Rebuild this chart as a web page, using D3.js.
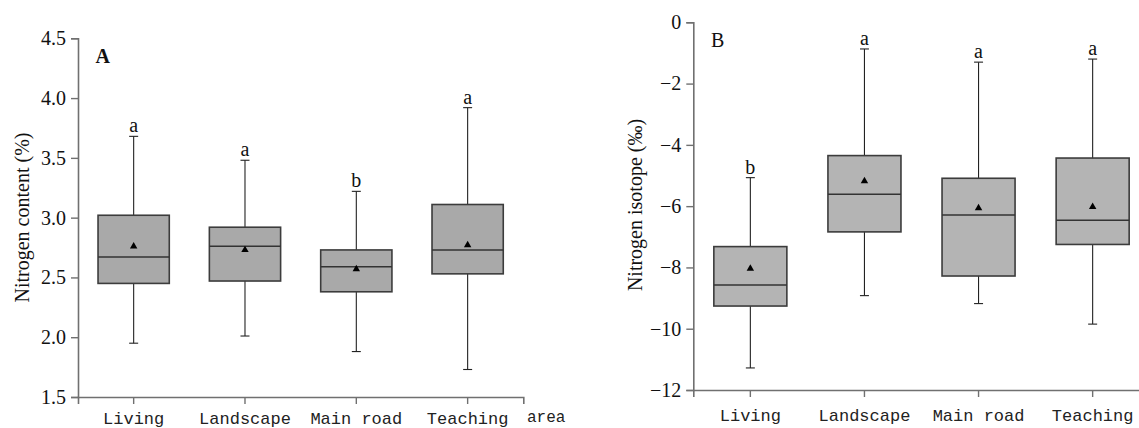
<!DOCTYPE html>
<html>
<head>
<meta charset="utf-8">
<script src="https://cdn.jsdelivr.net/npm/d3@7"></script>
<style>
  body { margin: 0; background: #fff; }
  svg { display: block; }
</style>
</head>
<body>
<div id="chart"></div>
<script>
// categories
const categories = ["Living", "Landscape", "Main road", "Teaching"];

// panel A - nitrogen content (%)
const nMin    = [1.95, 2.01, 1.88, 1.73];
const nQ1     = [2.45, 2.47, 2.38, 2.53];
const nMedian = [2.67, 2.76, 2.59, 2.73];
const nQ3     = [3.02, 2.92, 2.73, 3.11];
const nMax    = [3.68, 3.48, 3.22, 3.92];
const nMean   = [2.76, 2.73, 2.57, 2.77];
const nLetters = ["a", "a", "b", "a"];
const nTicks  = [1.5, 2.0, 2.5, 3.0, 3.5, 4.0, 4.5];

// panel B - nitrogen isotope (‰)
const iMin    = [-11.28, -8.92, -9.18, -9.85];
const iQ1     = [-9.26, -6.84, -8.28, -7.25];
const iMedian = [-8.57, -5.61, -6.29, -6.46];
const iQ3     = [-7.32, -4.35, -5.09, -4.43];
const iMax    = [-5.07, -0.87, -1.30, -1.20];
const iMean   = [-8.04, -5.18, -6.06, -6.02];
const iLetters = ["b", "a", "a", "a"];
const iTicks  = [-12, -10, -8, -6, -4, -2, 0];

const width = 1139, height = 428;
const serif = "'Liberation Serif', 'Times New Roman', serif";
const mono = "'Liberation Mono', monospace";

const svg = d3.select("#chart").append("svg")
    .attr("width", width)
    .attr("height", height);

function drawPanel(opt) {
    const rows = categories.map((c, i) => ({
        cat: c, min: opt.min[i], q1: opt.q1[i], med: opt.median[i],
        q3: opt.q3[i], max: opt.max[i], mean: opt.mean[i], letter: opt.letters[i]
    }));

    const x = d3.scaleBand().domain(categories).range(opt.xRange);
    const y = d3.scaleLinear().domain(opt.yDomain).range(opt.yRange);
    const boxW = x.step() * 0.64;
    const cx = d => x(d.cat) + x.bandwidth() / 2;

    const g = svg.append("g");

    // axes
    const yAxis = g.append("g")
        .attr("transform", `translate(${opt.xRange[0]},0)`)
        .call(d3.axisLeft(y).tickValues(opt.ticks).tickFormat(opt.fmt)
            .tickSizeOuter(0).tickSize(7).tickPadding(5));
    const xAxis = g.append("g")
        .attr("transform", `translate(0,${opt.yRange[0]})`)
        .call(d3.axisBottom(x).tickSizeOuter(0).tickSize(7).tickPadding(opt.xPad));

    [yAxis, xAxis].forEach(a => {
        a.select(".domain").attr("stroke", "#707070").attr("stroke-width", 1.6);
        a.selectAll(".tick line").attr("stroke", "#707070").attr("stroke-width", 1.4);
    });
    yAxis.selectAll(".tick text")
        .attr("fill", "#111")
        .style("font-family", serif)
        .style("font-size", "20px");
    xAxis.selectAll(".tick text")
        .attr("fill", "#222")
        .attr("dy", "0.45em")
        .style("font-family", mono)
        .style("font-size", "17px");

    const box = g.selectAll(".box").data(rows).join("g").attr("class", "box");

    // whiskers
    box.append("line")
        .attr("x1", cx).attr("x2", cx)
        .attr("y1", d => y(d.max)).attr("y2", d => y(d.min))
        .attr("stroke", "#222").attr("stroke-width", 1.1);
    box.append("line")
        .attr("x1", d => cx(d) - 4.5).attr("x2", d => cx(d) + 4.5)
        .attr("y1", d => y(d.max)).attr("y2", d => y(d.max))
        .attr("stroke", "#222").attr("stroke-width", 1.1);
    box.append("line")
        .attr("x1", d => cx(d) - 4.5).attr("x2", d => cx(d) + 4.5)
        .attr("y1", d => y(d.min)).attr("y2", d => y(d.min))
        .attr("stroke", "#222").attr("stroke-width", 1.1);

    // box
    box.append("rect")
        .attr("x", d => cx(d) - boxW / 2)
        .attr("width", boxW)
        .attr("y", d => y(d.q3))
        .attr("height", d => y(d.q1) - y(d.q3))
        .attr("fill", opt.fill)
        .attr("stroke", "#3c3c3c")
        .attr("stroke-width", 1.6);

    // median
    box.append("line")
        .attr("x1", d => cx(d) - boxW / 2).attr("x2", d => cx(d) + boxW / 2)
        .attr("y1", d => y(d.med)).attr("y2", d => y(d.med))
        .attr("stroke", "#333").attr("stroke-width", 1.5);

    // mean marker
    box.append("path")
        .attr("d", d3.symbol(d3.symbolTriangle, 24))
        .attr("transform", d => `translate(${cx(d)},${y(d.mean)})`)
        .attr("fill", "#000");

    // significance letters
    box.append("text")
        .attr("x", cx)
        .attr("y", d => y(d.max) - 4)
        .attr("text-anchor", "middle")
        .style("font-family", serif)
        .style("font-size", "20px")
        .attr("fill", "#111")
        .text(d => d.letter);

    // panel letter
    g.append("text")
        .attr("x", opt.panelPos[0]).attr("y", opt.panelPos[1])
        .style("font-family", serif)
        .style("font-size", "20px")
        .style("font-weight", opt.panelBold ? "bold" : "normal")
        .attr("fill", "#111")
        .text(opt.panel);

    // y title
    g.append("text")
        .attr("transform", `translate(${opt.titlePos[0]},${opt.titlePos[1]}) rotate(-90)`)
        .attr("text-anchor", "middle")
        .style("font-family", serif)
        .style("font-size", "20px")
        .attr("fill", "#111")
        .text(opt.title);

    return g;
}

const gA = drawPanel({
    min: nMin, q1: nQ1, median: nMedian, q3: nQ3, max: nMax, mean: nMean, letters: nLetters,
    ticks: nTicks, fmt: d3.format(".1f"),
    xRange: [78, 523.3], yDomain: [1.5, 4.5], yRange: [397, 38.3], xPad: 12,
    fill: "#a9a9a9", panel: "A", panelBold: true, panelPos: [95.5, 62.5],
    title: "Nitrogen content (%)", titlePos: [28.5, 217.5]
});

gA.append("text")
    .attr("x", 527).attr("y", 422)
    .style("font-family", mono)
    .style("font-size", "16px")
    .attr("fill", "#222")
    .text("area");

drawPanel({
    min: iMin, q1: iQ1, median: iMedian, q3: iQ3, max: iMax, mean: iMean, letters: iLetters,
    ticks: iTicks, fmt: d3.format("d"),
    xRange: [693.3, 1149.7], yDomain: [-12, 0], yRange: [390, 22.3], xPad: 16,
    fill: "#b4b4b4", panel: "B", panelBold: false, panelPos: [711, 46.7],
    title: "Nitrogen isotope (‰)", titlePos: [641.5, 205]
});
</script>
</body>
</html>
